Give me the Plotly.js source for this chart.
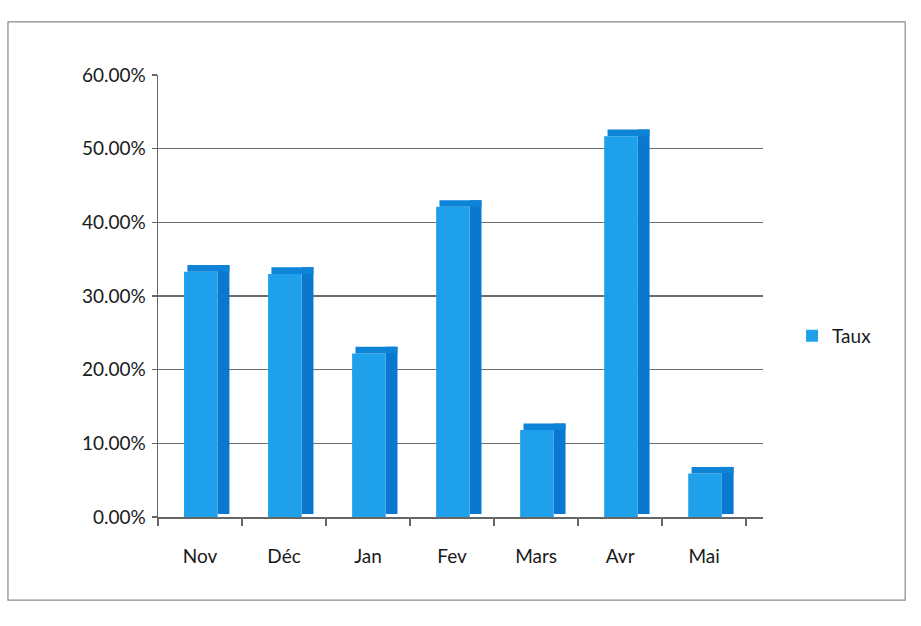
<!DOCTYPE html>
<html>
<head>
<meta charset="utf-8">
<script src="https://cdn.plot.ly/plotly-3.0.1.min.js"></script>
<style>
  html, body { margin: 0; padding: 0; background: #fff; }
  #chart { width: 921px; height: 626px; }
</style>
</head>
<body>
<div id="chart"></div>
<script>
// Data
const categories = ["Nov", "Déc", "Jan", "Fev", "Mars", "Avr", "Mai"];
const seriesName = "Taux";
const taux = [0.333, 0.330, 0.222, 0.421, 0.118, 0.517, 0.059];
const yTicks = [0, 0.1, 0.2, 0.3, 0.4, 0.5, 0.6];

// pseudo-3D faces built from the same values
const depth = 0.009;
const topBase = taux.map(v => v);
const topHeight = taux.map(() => depth);
const sideHeight = taux.map(v => v + depth - 0.004);
const sideBase = taux.map(() => 0.004);

const frontFace = {
  type: "bar", x: categories, y: taux, name: seriesName,
  offset: -0.19, width: 0.40,
  marker: { color: "#1ea0ea", line: { width: 0 } },
  showlegend: true, hoverinfo: "x+y"
};
const sideFace = {
  type: "bar", x: categories, y: sideHeight, base: sideBase,
  offset: 0.21, width: 0.14,
  marker: { color: "#0b78cf", line: { width: 0 } },
  showlegend: false, hoverinfo: "skip"
};
const topFace = {
  type: "bar", x: categories, y: topHeight, base: topBase,
  offset: -0.15, width: 0.50,
  marker: { color: "#0d84d8", line: { width: 0 } },
  showlegend: false, hoverinfo: "skip"
};

const layout = {
  width: 921, height: 626,
  margin: { l: 158, r: 158, t: 75, b: 109 },
  paper_bgcolor: "#ffffff", plot_bgcolor: "#ffffff",
  barmode: "overlay",
  font: { family: "Lato, 'Open Sans', sans-serif", size: 19, color: "#1a1a1a" },
  xaxis: {
    type: "category",
    range: [-0.5, 6.7],
    showgrid: false,
    showline: true, linecolor: "#666", linewidth: 1.5,
    ticks: "outside", tickson: "boundaries", ticklen: 7, tickcolor: "#666", tickwidth: 1.5,
    ticklabelstandoff: 22,
    tickfont: { size: 19, color: "#1a1a1a" },
    zeroline: false, fixedrange: true
  },
  yaxis: {
    range: [0, 0.6],
    tickvals: yTicks,
    tickformat: ".2%",
    showgrid: true, gridcolor: "#6e6e6e", gridwidth: 1.5,
    showline: true, linecolor: "#666", linewidth: 1.5,
    ticks: "outside", ticklen: 5, tickcolor: "#666", tickwidth: 1.5,
    ticklabelstandoff: 2,
    tickfont: { size: 19, color: "#1a1a1a" },
    zeroline: false, fixedrange: true
  },
  legend: {
    x: 1.048, y: 0.41, xanchor: "left", yanchor: "middle",
    font: { size: 19, color: "#1a1a1a" },
    bgcolor: "rgba(0,0,0,0)", itemwidth: 30
  },
  shapes: [{
    type: "rect", xref: "paper", yref: "paper",
    x0: -0.248, x1: 1.235, y0: -0.188, y1: 1.12,
    line: { color: "#8a8a8a", width: 1.2 }, fillcolor: "rgba(0,0,0,0)", layer: "below"
  }],
  showlegend: true
};

Plotly.newPlot("chart", [sideFace, frontFace, topFace], layout, { displayModeBar: false, staticPlot: true });
</script>
</body>
</html>
